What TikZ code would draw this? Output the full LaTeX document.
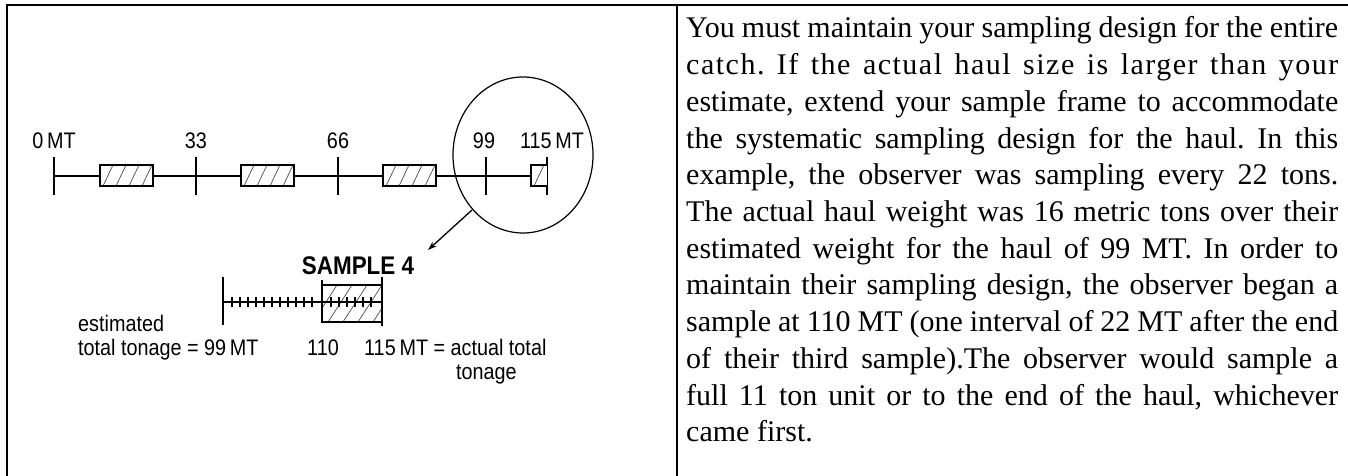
\documentclass[tikz,border=0pt]{standalone}
\usepackage{fontspec}
\setmainfont{Liberation Serif}
\newfontfamily\labfont[FakeStretch=0.88]{Liberation Sans}
\usetikzlibrary{arrows.meta}
\frenchspacing
\newcommand\hatchrect[6]{%
  \begin{scope}
    \clip (#1,#2) rectangle (#3,#4);
    \fill[white] (#1,#2) rectangle (#3,#4);
    \foreach \k in {0,...,7}{
      \draw[hatchline] ({#1-#5+\k*#6},#4) -- ++(#5,{#2-#4});
    }
  \end{scope}}
\begin{document}
\begin{tikzpicture}[x=1pt,y=-1pt,
  frame/.style={line width=2.4pt},
  divider/.style={line width=1.6pt},
  axis/.style={line width=1.7pt},
  tick/.style={line width=1.6pt},
  minor/.style={line width=1.2pt},
  hatchline/.style={line width=0.7pt, black!70},
  para/.style={anchor=base west, inner sep=0pt, font=\fontsize{30}{36}\selectfont},
  lab/.style={inner sep=0pt, anchor=base, font=\labfont\fontsize{22.5}{26}\selectfont},
  labw/.style={lab, anchor=base west},
]
\useasboundingbox (0,0) rectangle (1348,476);
% frame
\draw[frame] (7,476) -- (7,5) -- (1348,5);
\draw[divider] (677,5) -- (677,476);

% ---------- top timeline ----------
\coordinate (t0) at (54,176);
\coordinate (t33) at (196,176);
\coordinate (t66) at (338,176);
\coordinate (t99) at (486,176);
\coordinate (t115) at (547,176);
\draw[axis] (t0) -- (t115);
\foreach \c in {t0,t33,t66,t99,t115}{
  \draw[tick] ([yshift=19pt]\c) -- ([yshift=-19pt]\c);
}
% sample boxes
\hatchrect{100}{165}{153}{186}{10}{13}
\draw[axis] (100,165) rectangle (153,186);
\hatchrect{241}{165}{294}{186}{10}{13}
\draw[axis] (241,165) rectangle (294,186);
\hatchrect{383}{165}{436}{186}{10}{13}
\draw[axis] (383,165) rectangle (436,186);
\hatchrect{531}{165}{547}{186}{10}{13}
\draw[axis] (547,165) -- (531,165) -- (531,186) -- (547,186);
% labels
\node[lab] (l0) at (54,148) {0\,MT};
\node[lab] (l33) at (196,148) {33};
\node[lab] (l66) at (338,148) {66};
\node[lab] (l99) at (484,148) {99};
\node[lab] (l115) at (552,148) {115\,MT};
% magnifier ellipse and arrow
\draw[line width=1.2pt] (523,155) ellipse [x radius=70pt, y radius=78pt];
\coordinate (astart) at (472,210);
\coordinate (atip) at (428,250);
\draw[line width=1.3pt, -{Stealth[length=9pt,width=6pt]}] (astart) -- (atip);

% ---------- sample 4 detail ----------
\node[lab, font=\labfont\bfseries\fontsize{25.5}{30}\selectfont] (s4) at (358,274) {SAMPLE 4};
\hatchrect{322}{285}{382}{322}{24}{15}
\draw[axis] (322,285) -- (382,285);
\draw[axis] (322,322) -- (382,322);
\draw[tick] (322,280) -- (322,323);
\draw[tick] (382,277) -- (382,326);
\coordinate (b99) at (223,302);
\coordinate (b115) at (382,302);
\draw[axis] (b99) -- (b115);
\draw[tick] (223,277) -- (223,325);
\foreach \x in {232,240,...,314}{
  \draw[minor] (\x,297) -- (\x,307);
}
\foreach \x in {331,339,...,373}{
  \draw[minor] (\x,297) -- (\x,307);
}
\node[labw] (est1) at (78,331) {estimated};
\node[labw] (est2) at (78,355) {total tonage = 99\,MT};
\node[lab] (l110) at (323,355) {110};
\node[labw] (act1) at (364,355) {115\,MT = actual total};
\node[labw] (act2) at (456,379) {tonage};

% ---------- paragraph ----------
\node[para] (p1) at (686,38) {\makebox[652pt][s]{You must maintain your sampling design for the entire}};
\node[para] (p2) at (686,74.7) {\makebox[652pt][s]{\addfontfeature{LetterSpace=5}catch. If the actual haul size is larger than your}};
\node[para] (p3) at (686,111.4) {\makebox[652pt][s]{estimate, extend your sample frame to accommodate}};
\node[para] (p4) at (686,148.1) {\makebox[652pt][s]{the systematic sampling design for the haul. In this}};
\node[para] (p5) at (686,184.8) {\makebox[652pt][s]{example, the observer was sampling every 22 tons.}};
\node[para] (p6) at (686,221.5) {\makebox[652pt][s]{The actual haul weight was 16 metric tons over their}};
\node[para] (p7) at (686,258.2) {\makebox[652pt][s]{estimated weight for the haul of 99 MT. In order to}};
\node[para] (p8) at (686,294.9) {\makebox[652pt][s]{maintain their sampling design, the observer began a}};
\node[para] (p9) at (686,331.6) {\makebox[652pt][s]{sample at 110 MT (one interval of 22 MT after the end}};
\node[para] (p10) at (686,368.3) {\makebox[652pt][s]{of their third sample).The observer would sample a}};
\node[para] (p11) at (686,405) {\makebox[652pt][s]{full 11 ton unit or to the end of the haul, whichever}};
\node[para] (p12) at (686,441.7) {came first.};
\end{tikzpicture}
\end{document}
